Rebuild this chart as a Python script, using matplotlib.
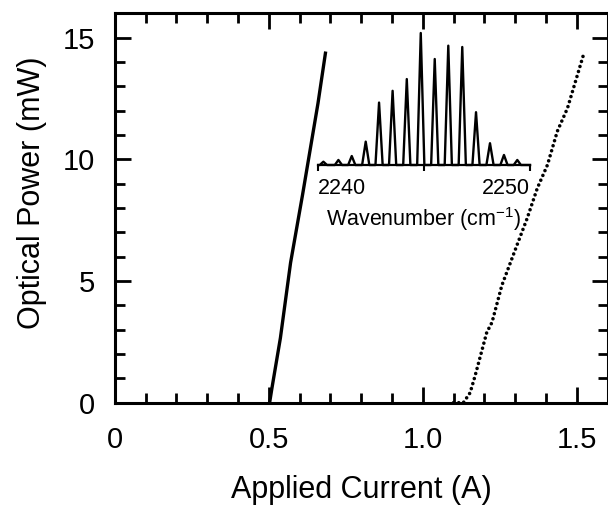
import matplotlib
matplotlib.use("Agg")
import matplotlib.pyplot as plt
from matplotlib.ticker import MultipleLocator

plt.rcParams['font.family'] = ['Liberation Sans', 'DejaVu Sans']
plt.rcParams['mathtext.default'] = 'regular'

# ---- data ----
# solid L-I curve
cw_current = [0.503, 0.510, 0.538, 0.571, 0.610, 0.660, 0.685]
cw_power = [0.0, 0.56, 2.66, 5.75, 8.55, 12.3, 14.43]

# dotted L-I curve
p_current = [1.100, 1.132, 1.154, 1.170, 1.208, 1.225, 1.257, 1.306, 1.339,
             1.372, 1.405, 1.437, 1.470, 1.524]
p_power = [0.0, 0.0, 0.41, 1.10, 2.89, 3.30, 4.82, 6.47, 7.57,
           8.81, 9.77, 11.15, 12.10, 14.38]

# inset spectrum: mode positions (cm^-1) and relative heights
mode_wn = [2240.24, 2240.95, 2241.58, 2242.24, 2242.87, 2243.51, 2244.18,
           2244.84, 2245.50, 2246.14, 2246.80, 2247.45, 2248.11, 2248.77, 2249.40]
mode_h = [0.025, 0.038, 0.068, 0.177, 0.473, 0.562, 0.651, 1.0, 0.803,
          0.904, 0.894, 0.400, 0.165, 0.076, 0.038]

x_ticks = [0, 0.5, 1.0, 1.5]
x_ticklabels = ['0', '0.5', '1.0', '1.5']
y_ticks = [0, 5, 10, 15]
inset_ticks = [2240, 2250]

# ---- figure ----
W, H = 608, 516
fig = plt.figure(figsize=(W / 100, H / 100), dpi=100)

ax = fig.add_axes([114.7 / W, 1 - 402.7 / H, 492.8 / W, 389.4 / H])
ax.plot(cw_current, cw_power, color='black', lw=2.4, solid_capstyle='butt')
ax.plot(p_current, p_power, color='black', lw=2.6,
        linestyle=(0, (0.001, 1.45)), dash_capstyle='round')

ax.set_xlim(0, 1.6)
ax.set_ylim(0, 16)
ax.set_xticks(x_ticks)
ax.set_xticklabels(x_ticklabels)
ax.set_yticks(y_ticks)
ax.xaxis.set_minor_locator(MultipleLocator(0.1))
ax.yaxis.set_minor_locator(MultipleLocator(1))
ax.tick_params(which='both', direction='in', top=True, right=True, width=2.0,
               labelsize=21, colors='black')
ax.tick_params(which='major', length=11.5)
ax.tick_params(which='minor', length=7)
ax.tick_params(axis='x', which='major', pad=17)
ax.tick_params(axis='y', which='major', pad=14)
for s in ax.spines.values():
    s.set_linewidth(2.2)
ax.set_xlabel('Applied Current (A)', fontsize=22, labelpad=15)
ax.set_ylabel('Optical Power (mW)', fontsize=22)
ax.yaxis.set_label_coords(-0.137, 0.54)

# ---- inset ----
ins = fig.add_axes([318.3 / W, 1 - 165 / H, 211.7 / W, 132 / H])
hw = 0.17
sx, sy = [2240.0], [0.0]
for c, h in zip(mode_wn, mode_h):
    sx += [c - hw, c, c + hw]
    sy += [0.0, h, 0.0]
sx.append(2250.0)
sy.append(0.0)
ins.plot(sx, sy, color='black', lw=1.7, clip_on=False, solid_joinstyle='round')
ins.set_xlim(2240, 2250)
ins.set_ylim(0, 1.0)
ins.patch.set_visible(False)
for k in ['top', 'right', 'left']:
    ins.spines[k].set_visible(False)
ins.spines['bottom'].set_linewidth(1.6)
ins.set_yticks([])
ins.set_xticks(inset_ticks)
ins.set_xticklabels([str(t) for t in inset_ticks], fontsize=15.5)
ins.set_xticks([2245], minor=True)
ins.tick_params(which='both', direction='out', length=4.5, width=1.5, pad=5)
lbls = ins.get_xticklabels()
lbls[0].set_horizontalalignment('left')
lbls[1].set_horizontalalignment('right')
ins.set_xlabel('Wavenumber (cm$^{-1}$)', fontsize=15.5, labelpad=4)

fig.savefig('out.png', dpi=100)
